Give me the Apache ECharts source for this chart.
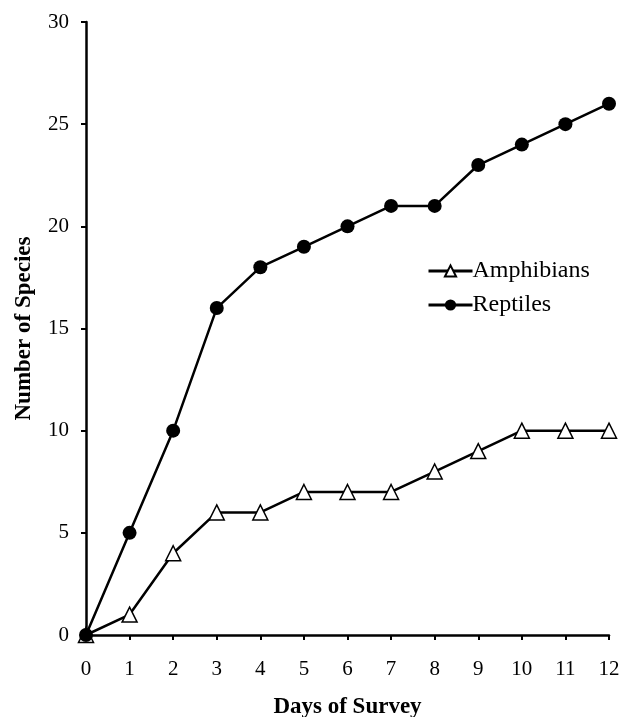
<!DOCTYPE html>
<html>
<head>
<meta charset="utf-8">
<script src="https://cdn.jsdelivr.net/npm/echarts@6/dist/echarts.min.js"></script>
<style>
  html, body { margin: 0; padding: 0; background: #fff; }
  #chart { width: 621px; height: 717px; }
</style>
</head>
<body>
<div id="chart"></div>
<script>
const days = [0, 1, 2, 3, 4, 5, 6, 7, 8, 9, 10, 11, 12];
const amphibians = [0, 1, 4, 6, 6, 7, 7, 7, 8, 9, 10, 10, 10];
const reptiles = [0, 5, 10, 16, 18, 19, 20, 21, 21, 23, 24, 25, 26];

let chart = echarts.init(document.getElementById("chart"), null, { renderer: "canvas" });

const font = "Liberation Serif";
const pairs = (ys) => days.map((d, i) => [d, ys[i]]);

let option = {
  animation: false,
  textStyle: { fontFamily: font, color: "#000" },
  grid: { left: 86, right: 12, top: 22, bottom: 82, containLabel: false, outerBoundsMode: "none" },
  legend: {
    orient: "vertical",
    left: 422,
    top: 254,
    itemGap: 10,
    itemWidth: 44,
    itemHeight: 14,
    lineStyle: { width: 3, color: "#000" },
    textStyle: { fontFamily: font, fontSize: 24, color: "#000", padding: [0, 0, 0, -5] },
    data: ["Amphibians", "Reptiles"]
  },
  xAxis: {
    type: "value",
    min: 0,
    max: 12,
    interval: 1,
    name: "Days of Survey",
    nameLocation: "middle",
    nameGap: 61,
    nameTextStyle: { fontFamily: font, fontSize: 23, fontWeight: "bold", color: "#000" },
    axisLine: { lineStyle: { color: "#000", width: 2.5 } },
    axisTick: { length: 5, lineStyle: { color: "#000", width: 2 } },
    axisLabel: { fontFamily: font, fontSize: 21, color: "#000", margin: 24 },
    splitLine: { show: false }
  },
  yAxis: {
    type: "value",
    min: 0,
    max: 30,
    interval: 5,
    name: "Number of Species",
    nameLocation: "middle",
    nameGap: 50,
    nameTextStyle: { fontFamily: font, fontSize: 23, fontWeight: "bold", color: "#000" },
    axisLine: { show: true, lineStyle: { color: "#000", width: 2.5 } },
    axisTick: { show: true, length: 5, lineStyle: { color: "#000", width: 2 } },
    axisLabel: { fontFamily: font, fontSize: 21, color: "#000", margin: 17 },
    splitLine: { show: false }
  },
  series: [
    {
      name: "Amphibians",
      type: "line",
      data: pairs(amphibians),
      symbol: "triangle",
      symbolSize: 15,
      itemStyle: { color: "#fff", borderColor: "#000", borderWidth: 1.5 },
      lineStyle: { color: "#000", width: 2.5 },
      z: 3
    },
    {
      name: "Reptiles",
      type: "line",
      data: pairs(reptiles),
      symbol: "circle",
      symbolSize: 14,
      itemStyle: { color: "#000", borderColor: "#000", borderWidth: 0 },
      lineStyle: { color: "#000", width: 2.5 },
      z: 4
    }
  ]
};

chart.setOption(option);

window.addEventListener("resize", function () {
  chart.resize();
});
</script>
</body>
</html>
